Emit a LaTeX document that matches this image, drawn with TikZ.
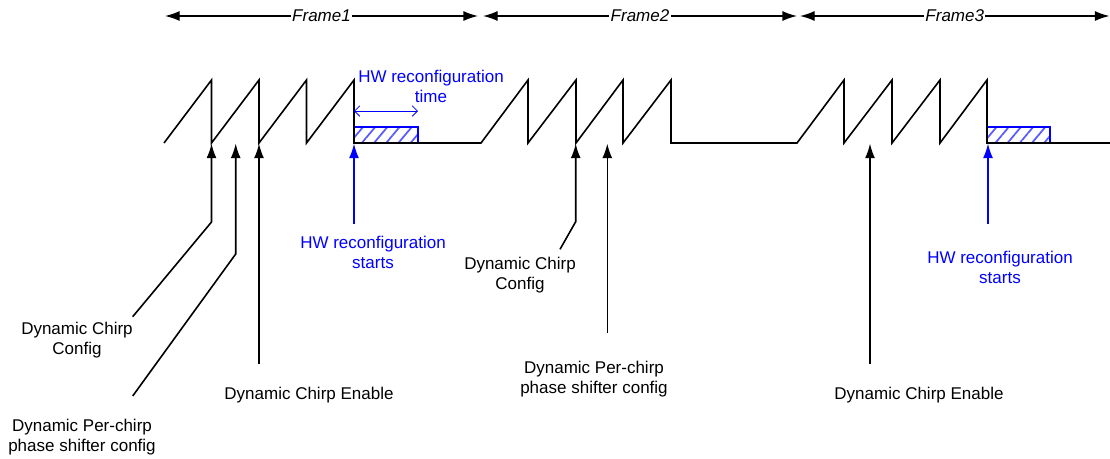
\documentclass[tikz,border=0pt]{standalone}
\usepackage{fontspec}
\setmainfont{Liberation Sans}
\usetikzlibrary{arrows.meta,patterns.meta}

\tikzset{
  wave/.style={line width=1.2pt, line join=miter},
  span/.style={line width=1pt, {Latex[length=11pt,width=7.5pt]}-{Latex[length=11pt,width=7.5pt]}},
  hwspan/.style={blue, line width=0.6pt, {Straight Barb[length=4pt,width=8pt]}-{Straight Barb[length=4pt,width=8pt]}},
  trig/.style={line width=1.2pt, -{Latex[length=11pt,width=7.5pt]}},
  hwtrig/.style={trig, blue},
  lbl/.style={inner sep=0.75pt, align=center, font=\fontsize{12.75}{15}\selectfont},
  hwlbl/.style={lbl, text=blue},
  framelbl/.style={lbl, fill=white, inner sep=1pt, font=\fontsize{12.75}{15}\selectfont\itshape},
  hatchbox/.style={draw=blue, line width=0.8pt, pattern={Lines[angle=50,distance=7pt,line width=1.3pt]}, pattern color=blue!65},
}

\begin{document}
\begin{tikzpicture}[x=0.75pt,y=0.75pt,yscale=-1,xscale=1]
\useasboundingbox (0,0) rectangle (1110,458);

% Frame spans
\coordinate (f1l) at (165,16);  \coordinate (f1r) at (478,16);
\coordinate (f2l) at (483,16);  \coordinate (f2r) at (797,16);
\coordinate (f3l) at (800,16);  \coordinate (f3r) at (1109.5,16);
\draw[span] (f1l) -- node[framelbl] (fr1) {Frame1} (f1r);
\draw[span] (f2l) -- node[framelbl] (fr2) {Frame2} (f2r);
\draw[span] (f3l) -- node[framelbl] (fr3) {Frame3} (f3r);

% HW reconfiguration boxes
\draw[hatchbox] (354,127) rectangle (418,143);
\draw[hatchbox] (987,127) rectangle (1050,143);

% Chirp waveform
\draw[wave] (164,143) -- (211.5,80) -- (211.5,143) -- (259,80) -- (259,143)
      -- (306.5,80) -- (306.5,143) -- (354,80) -- (354,143) -- (481,143)
      -- (528,80) -- (528,143) -- (576,80) -- (576,143) -- (623,80) -- (623,143)
      -- (671,80) -- (671,143) -- (797,143)
      -- (844,80) -- (844,143) -- (892,80) -- (892,143) -- (940,80) -- (940,143)
      -- (987,80) -- (987,143) -- (1110,143);

% HW reconfiguration time
\coordinate (hwa) at (354,111);  \coordinate (hwb) at (418,111);
\draw[hwspan] (hwa) -- (hwb);
\node[hwlbl] (hwtime) at (431,86) {HW reconfiguration\\time};

% Labels
\node[lbl] (cfg1) at (77,340) {Dynamic Chirp\\Config};
\node[lbl] (ps1) at (82,437) {Dynamic Per-chirp\\phase shifter config};
\node[lbl] (en1) at (309,395) {Dynamic Chirp Enable};
\node[hwlbl] (hw1) at (373,252) {HW reconfiguration\\starts};
\node[lbl] (cfg2) at (520,275) {Dynamic Chirp\\Config};
\node[lbl] (ps2) at (594,379) {Dynamic Per-chirp\\phase shifter config};
\node[lbl] (en2) at (919,395) {Dynamic Chirp Enable};
\node[hwlbl] (hw2) at (1000,267) {HW reconfiguration\\starts};

% Trigger points on the waveform
\coordinate (t1) at (211.5,143.5);  \coordinate (t2) at (235.7,143.5);
\coordinate (t3) at (259,143.5);    \coordinate (t4) at (354,143.5);
\coordinate (t5) at (575.7,143.5);  \coordinate (t6) at (607.3,143.5);
\coordinate (t7) at (870,143.5);    \coordinate (t8) at (988,143.5);

% Leader ends
\coordinate (c1) at (132.7,316.7);  \coordinate (c2) at (132.7,396);
\coordinate (c3) at (259,364);      \coordinate (c4) at (354,224);
\coordinate (c5) at (560,249.3);    \coordinate (c6) at (607.3,333);
\coordinate (c7) at (870,364);      \coordinate (c8) at (988,224);

% Leaders
\draw[trig] (c1) -- (211.5,222) -- (t1);
\draw[trig] (c2) -- (235.7,254) -- (t2);
\draw[trig] (c3) -- (t3);
\draw[hwtrig] (c4) -- (t4);
\draw[trig] (c5) -- (575.7,221.7) -- (t5);
\draw[trig] (c6) -- (t6);
\draw[trig] (c7) -- (t7);
\draw[hwtrig] (c8) -- (t8);

\end{tikzpicture}
\end{document}
